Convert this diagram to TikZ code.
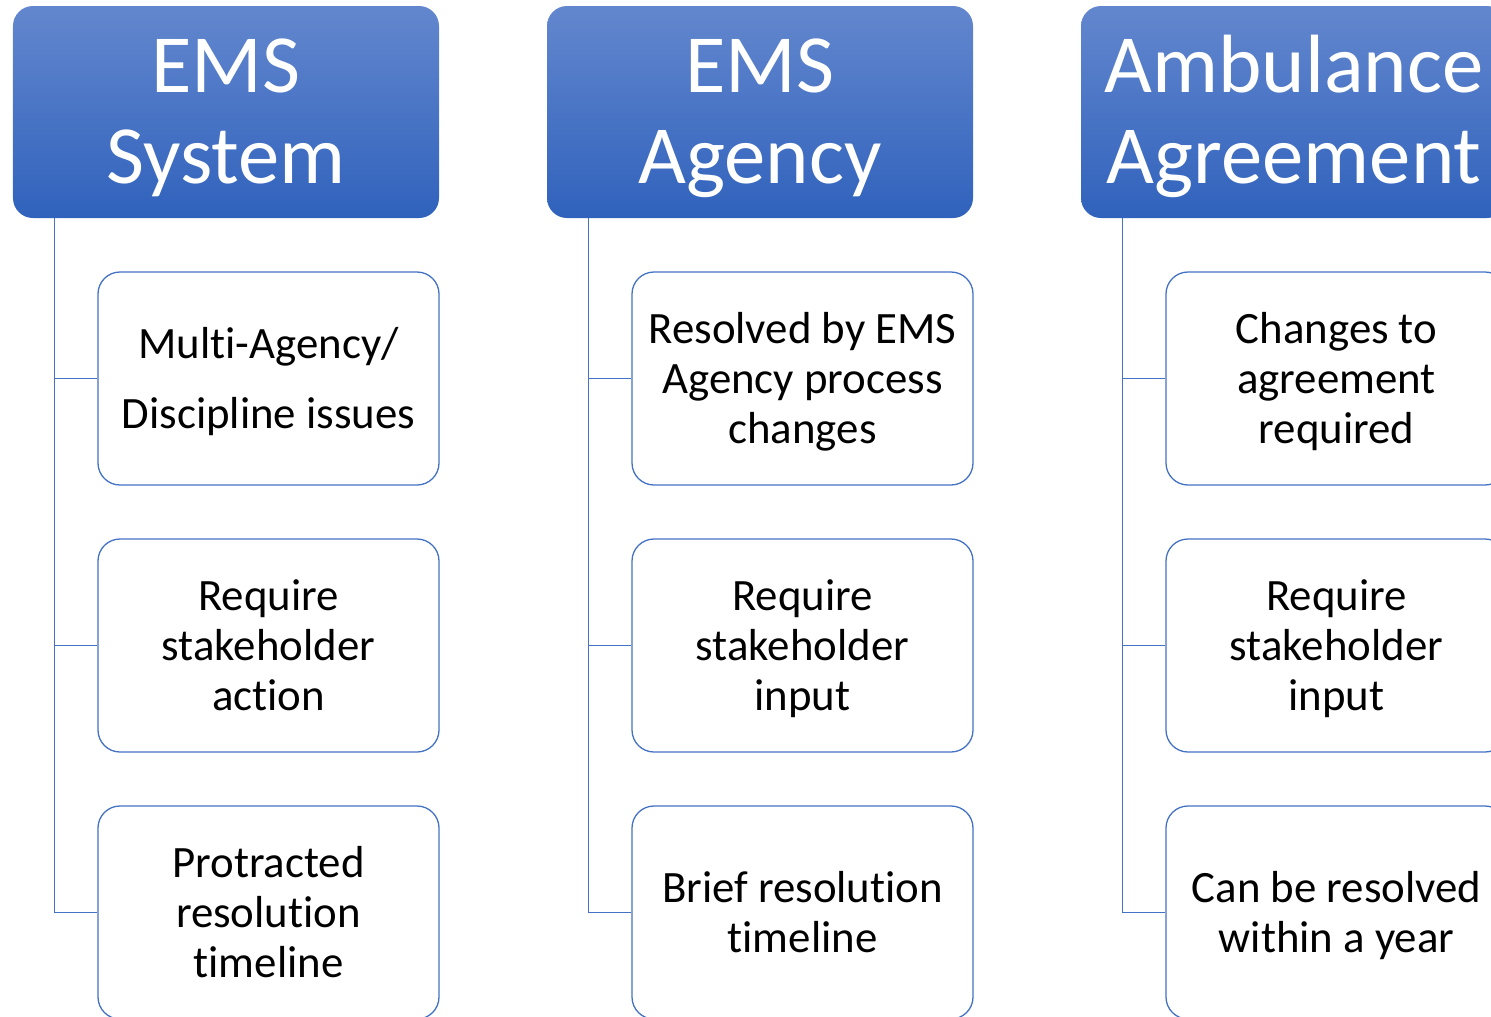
\documentclass[tikz,border=0pt]{standalone}
\usepackage{fontspec}
\setmainfont{Carlito}[Ligatures=NoCommon]
\usetikzlibrary{positioning}
\definecolor{emsblue}{RGB}{68,114,196}
\definecolor{emstop}{RGB}{99,135,206}
\definecolor{emsbot}{RGB}{48,98,188}
% struts fixing first and last line of the texts
\newcommand{\hd}[1]{\rule{0pt}{72bp}#1\rule[-20bp]{0pt}{20bp}}
\newcommand{\itm}[1]{\rule{0pt}{42bp}#1\rule[-12bp]{0pt}{12bp}}
\tikzset{
	head/.style={rectangle, rounded corners=20bp, top color=emstop, bottom color=emsbot, draw=none,
		minimum width=426bp, minimum height=212bp, inner sep=0pt, text=white, align=center,
		font=\fontsize{83}{92}\selectfont},
	item/.style={rectangle, rounded corners=22bp, draw=emsblue, line width=1.3bp, fill=white,
		minimum width=341bp, minimum height=213bp, inner sep=0pt, align=center,
		font=\fontsize{45}{50}\selectfont},
	link/.style={draw=emsblue, line width=1.3bp}
}

\begin{document}
\begin{tikzpicture}[x=1bp,y=-1bp]
		\useasboundingbox (0,0) rectangle (1491,1016);
		\clip (0,0) rectangle (1491,1016);
		% headers
		\node[head] (sys) at (226,112) {\hd{EMS\\System}};
		\node[head] (agy) at (760,112) {\hd{EMS\\Agency}};
		\node[head] (amb) at (1294,112) {\hd{Ambulance\\Agreement}};
		% EMS system
		\node[item] (sys1) at (268.5,378.5) {\itm{Multi-Agency/\\[20bp]Discipline issues}};
		\node[item] (sys2) at (268.5,645.5) {\itm{Require\\stakeholder\\action}};
		\node[item] (sys3) at (268.5,912.5) {\itm{Protracted\\resolution\\timeline}};
		% EMS agency
		\node[item] (agy1) at (802.5,378.5) {\itm{Resolved by EMS\\Agency process\\changes}};
		\node[item] (agy2) at (802.5,645.5) {\itm{Require\\stakeholder\\input}};
		\node[item] (agy3) at (802.5,912.5) {\itm{Brief resolution\\timeline}};
		% ambulance agreement
		\node[item] (amb1) at (1336.5,378.5) {\itm{Changes to\\agreement\\required}};
		\node[item] (amb2) at (1336.5,645.5) {\itm{Require\\stakeholder\\input}};
		\node[item] (amb3) at (1336.5,912.5) {\itm{Can be resolved\\within a year}};
		% connectors
		\coordinate (sysr) at ([xshift=42bp]sys.south west);
		\coordinate (agyr) at ([xshift=42bp]agy.south west);
		\coordinate (ambr) at ([xshift=42bp]amb.south west);
		\draw[link] (sysr) |- (sys3.west);
		\draw[link] (sysr) |- (sys1.west);
		\draw[link] (sysr) |- (sys2.west);
		\draw[link] (agyr) |- (agy3.west);
		\draw[link] (agyr) |- (agy1.west);
		\draw[link] (agyr) |- (agy2.west);
		\draw[link] (ambr) |- (amb3.west);
		\draw[link] (ambr) |- (amb1.west);
		\draw[link] (ambr) |- (amb2.west);
	\end{tikzpicture}
\end{document}
